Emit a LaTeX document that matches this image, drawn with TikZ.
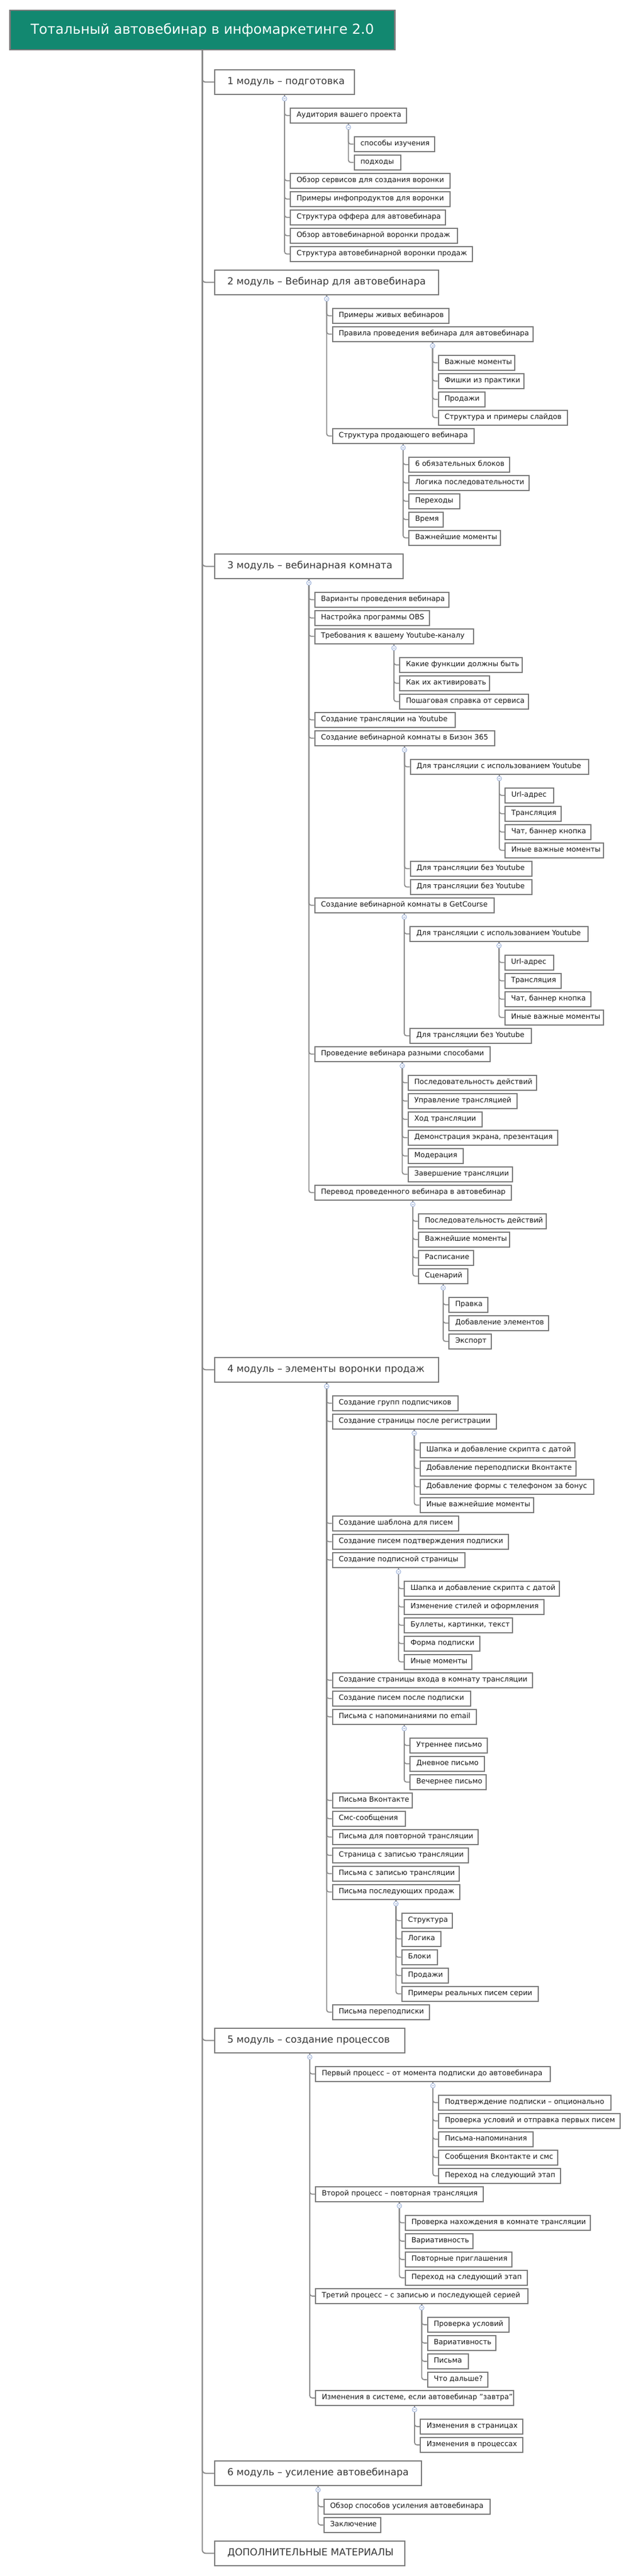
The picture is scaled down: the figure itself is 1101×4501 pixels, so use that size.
\documentclass[tikz,border=0pt]{standalone}
\usepackage{fontspec}
\setmainfont{DejaVu Sans}
\definecolor{teal0}{RGB}{18,136,112}
\definecolor{bord}{RGB}{122,122,122}
\definecolor{lnk}{RGB}{138,138,138}
\definecolor{btnc}{RGB}{150,172,214}
\tikzset{
 box/.style={draw=bord, line width=2pt, fill=white, inner xsep=11pt, inner ysep=0pt, minimum height=26pt, font=\fontsize{12.6}{15}\selectfont, text=black!90},
 modbox/.style={draw=bord, line width=2pt, fill=white, inner xsep=22pt, inner ysep=0pt, minimum height=43pt, font=\fontsize{17}{21}\selectfont, text=black!78},
 rootbox/.style={draw=bord, line width=2.5pt, fill=teal0, minimum width=672pt, minimum height=69pt, inner sep=0pt, font=\fontsize{24}{29}\selectfont, text=white},
 conn/.style={draw=lnk, line width=1.8pt, rounded corners=4pt},
 trunk/.style={draw=lnk, line width=2pt, rounded corners=6pt},
 cbtn/.style={circle, draw=btnc, fill=white, line width=0.9pt, inner sep=0pt, minimum size=8pt},
}
\newcommand\kid[5]{%
  \path ([xshift=9pt]#2.center) coordinate (tmpx);
  \coordinate (tmpy) at (0,#3);
  \node[box, anchor=west] (#1) at (tmpx |- tmpy) {\makebox[\dimexpr#4pt-24pt\relax][l]{\strut #5}};
  \draw[conn] (#2.south) |- (#1.west);
}
\newcommand\mdl[4]{%
  \coordinate (tmpy) at (374,#2);
  \node[modbox, anchor=west] (#1) at (tmpy) {\makebox[\dimexpr#3pt-46pt\relax][l]{\strut #4}};
  \draw[trunk] (root.south) |- (#1.west);
}
\newcommand\btn[1]{%
  \node[cbtn] (#1-btn) at ([yshift=-6.5pt]#1.south) {};
  \draw[btnc, line width=0.8pt] ([xshift=-2pt]#1-btn.center) -- ([xshift=2pt]#1-btn.center);
}
\begin{document}
\begin{tikzpicture}[x=1pt,y=-1pt]
\useasboundingbox (0,0) rectangle (1101,4501);
\node[rootbox, anchor=north west] (root) at (16,17) {Тотальный автовебинар в инфомаркетинге 2.0};

% modules
\mdl{m1}{143.5}{246}{1 модуль – подготовка}
\mdl{m2}{493.3}{393}{2 модуль – Вебинар для автовебинара}
\mdl{m3}{989.5}{331}{3 модуль – вебинарная комната}
\mdl{m4}{2393.3}{393}{4 модуль – элементы воронки продаж}
\mdl{m5}{3565.3}{334}{5 модуль – создание процессов}
\mdl{m6}{4321.5}{363}{6 модуль – усиление автовебинара}
\mdl{m7}{4461.3}{334}{ДОПОЛНИТЕЛЬНЫЕ МАТЕРИАЛЫ}

% module 1
\kid{a1}{m1}{201.8}{205}{Аудитория вашего проекта}
\kid{a1a}{a1}{251.8}{142}{способы изучения}
\kid{a1b}{a1}{283.8}{83}{подходы}
\kid{a2}{m1}{315.8}{281}{Обзор сервисов для создания воронки}
\kid{a3}{m1}{347.8}{281}{Примеры инфопродуктов для воронки}
\kid{a4}{m1}{379.8}{273}{Структура оффера для автовебинара}
\kid{a5}{m1}{411.8}{294}{Обзор автовебинарной воронки продаж}
\kid{a6}{m1}{443.8}{320}{Структура автовебинарной воронки продаж}

% module 2
\kid{b1}{m2}{551.8}{205}{Примеры живых вебинаров}
\kid{b2}{m2}{583.8}{352}{Правила проведения вебинара для автовебинара}
\kid{b2a}{b2}{633.8}{135}{Важные моменты}
\kid{b2b}{b2}{665.8}{151}{Фишки из практики}
\kid{b2c}{b2}{697.8}{83}{Продажи}
\kid{b2d}{b2}{729.8}{227}{Структура и примеры слайдов}
\kid{b3}{m2}{761.8}{249}{Структура продающего вебинара}
\kid{b3a}{b3}{811.8}{178}{6 обязательных блоков}
\kid{b3b}{b3}{843.8}{212}{Логика последовательности}
\kid{b3c}{b3}{875.8}{91}{Переходы}
\kid{b3d}{b3}{907.8}{62}{Время}
\kid{b3e}{b3}{939.8}{162}{Важнейшие моменты}

% module 3
\kid{c1}{m3}{1047.8}{236}{Варианты проведения вебинара}
\kid{c2}{m3}{1079.8}{202}{Настройка программы OBS}
\kid{c3}{m3}{1111.8}{279}{Требования к вашему Youtube-каналу}
\kid{c3a}{c3}{1161.8}{216}{Какие функции должны быть}
\kid{c3b}{c3}{1193.8}{159}{Как их активировать}
\kid{c3c}{c3}{1225.8}{227}{Пошаговая справка от сервиса}
\kid{c4}{m3}{1257.8}{247}{Создание трансляции на Youtube}
\kid{c5}{m3}{1289.8}{316}{Создание вебинарной комнаты в Бизон 365}
\kid{c5a}{c5}{1339.8}{313}{Для трансляции с использованием Youtube}
\kid{c5a1}{c5a}{1389.8}{87}{Url-адрес}
\kid{c5a2}{c5a}{1421.8}{100}{Трансляция}
\kid{c5a3}{c5a}{1453.8}{152}{Чат, баннер кнопка}
\kid{c5a4}{c5a}{1485.8}{174}{Иные важные моменты}
\kid{c5b}{c5}{1517.8}{214}{Для трансляции без Youtube}
\kid{c5c}{c5}{1549.8}{214}{Для трансляции без Youtube}
\kid{c6}{m3}{1581.8}{315}{Создание вебинарной комнаты в GetCourse}
\kid{c6a}{c6}{1631.8}{313}{Для трансляции с использованием Youtube}
\kid{c6a1}{c6a}{1681.8}{87}{Url-адрес}
\kid{c6a2}{c6a}{1713.8}{100}{Трансляция}
\kid{c6a3}{c6a}{1745.8}{152}{Чат, баннер кнопка}
\kid{c6a4}{c6a}{1777.8}{174}{Иные важные моменты}
\kid{c6b}{c6}{1809.8}{214}{Для трансляции без Youtube}
\kid{c7}{m3}{1841.8}{308}{Проведение вебинара разными способами}
\kid{c7a}{c7}{1891.8}{226}{Последовательность действий}
\kid{c7b}{c7}{1923.8}{192}{Управление трансляцией}
\kid{c7c}{c7}{1955.8}{131}{Ход трансляции}
\kid{c7d}{c7}{1987.8}{263}{Демонстрация экрана, презентация}
\kid{c7e}{c7}{2019.8}{98}{Модерация}
\kid{c7f}{c7}{2051.8}{184}{Завершение трансляции}
\kid{c8}{m3}{2083.8}{345}{Перевод проведенного вебинара в автовебинар}
\kid{c8a}{c8}{2133.8}{225}{Последовательность действий}
\kid{c8b}{c8}{2165.8}{161}{Важнейшие моменты}
\kid{c8c}{c8}{2197.8}{98}{Расписание}
\kid{c8d}{c8}{2229.8}{88}{Сценарий}
\kid{c8d1}{c8d}{2279.8}{70}{Правка}
\kid{c8d2}{c8d}{2311.8}{176}{Добавление элементов}
\kid{c8d3}{c8d}{2343.8}{76}{Экспорт}

% module 4
\kid{d1}{m4}{2451.8}{221}{Создание групп подписчиков}
\kid{d2}{m4}{2483.8}{288}{Создание страницы после регистрации}
\kid{d2a}{d2}{2533.8}{272}{Шапка и добавление скрипта с датой}
\kid{d2b}{d2}{2565.8}{274}{Добавление переподписки Вконтакте}
\kid{d2c}{d2}{2597.8}{305}{Добавление формы с телефоном за бонус}
\kid{d2d}{d2}{2629.8}{200}{Иные важнейшие моменты}
\kid{d3}{m4}{2661.8}{222}{Создание шаблона для писем}
\kid{d4}{m4}{2693.8}{309}{Создание писем подтверждения подписки}
\kid{d5}{m4}{2725.8}{233}{Создание подписной страницы}
\kid{d5a}{d5}{2775.8}{273}{Шапка и добавление скрипта с датой}
\kid{d5b}{d5}{2807.8}{246}{Изменение стилей и оформления}
\kid{d5c}{d5}{2839.8}{191}{Буллеты, картинки, текст}
\kid{d5d}{d5}{2871.8}{134}{Форма подписки}
\kid{d5e}{d5}{2903.8}{120}{Иные моменты}
\kid{d6}{m4}{2935.8}{351}{Создание страницы входа в комнату трансляции}
\kid{d7}{m4}{2967.8}{243}{Создание писем после подписки}
\kid{d8}{m4}{2999.8}{253}{Письма с напоминаниями по email}
\kid{d8a}{d8}{3049.8}{137}{Утреннее письмо}
\kid{d8b}{d8}{3081.8}{132}{Дневное письмо}
\kid{d8c}{d8}{3113.8}{135}{Вечернее письмо}
\kid{d9}{m4}{3145.8}{141}{Письма Вконтакте}
\kid{d10}{m4}{3177.8}{129}{Смс-сообщения}
\kid{d11}{m4}{3209.8}{256}{Письма для повторной трансляции}
\kid{d12}{m4}{3241.8}{239}{Страница с записью трансляции}
\kid{d13}{m4}{3273.8}{223}{Письма с записью трансляции}
\kid{d14}{m4}{3305.8}{224}{Письма последующих продаж}
\kid{d14a}{d14}{3355.8}{90}{Структура}
\kid{d14b}{d14}{3387.8}{70}{Логика}
\kid{d14c}{d14}{3419.8}{64}{Блоки}
\kid{d14d}{d14}{3451.8}{83}{Продажи}
\kid{d14e}{d14}{3483.8}{240}{Примеры реальных писем серии}
\kid{d15}{m4}{3515.8}{171}{Письма переподписки}

% module 5
\kid{e1}{m5}{3623.8}{412}{Первый процесс – от момента подписки до автовебинара}
\kid{e1a}{e1}{3673.8}{303}{Подтверждение подписки – опционально}
\kid{e1b}{e1}{3705.8}{319}{Проверка условий и отправка первых писем}
\kid{e1c}{e1}{3737.8}{167}{Письма-напоминания}
\kid{e1d}{e1}{3769.8}{210}{Сообщения Вконтакте и смс}
\kid{e1e}{e1}{3801.8}{215}{Переход на следующий этап}
\kid{e2}{m5}{3833.8}{295}{Второй процесс – повторная трансляция}
\kid{e2a}{e2}{3883.8}{325}{Проверка нахождения в комнате трансляции}
\kid{e2b}{e2}{3915.8}{120}{Вариативность}
\kid{e2c}{e2}{3947.8}{188}{Повторные приглашения}
\kid{e2d}{e2}{3979.8}{215}{Переход на следующий этап}
\kid{e3}{m5}{4011.8}{373}{Третий процесс – с записью и последующей серией}
\kid{e3a}{e3}{4061.8}{144}{Проверка условий}
\kid{e3b}{e3}{4093.8}{121}{Вариативность}
\kid{e3c}{e3}{4125.8}{73}{Письма}
\kid{e3d}{e3}{4157.8}{107}{Что дальше?}
\kid{e4}{m5}{4189.8}{348}{Изменения в системе, если автовебинар "завтра"}
\kid{e4a}{e4}{4239.8}{181}{Изменения в страницах}
\kid{e4b}{e4}{4271.8}{181}{Изменения в процессах}

% module 6
\kid{f1}{m6}{4379.8}{292}{Обзор способов усиления автовебинара}
\kid{f2}{m6}{4411.8}{101}{Заключение}

% collapse buttons
\btn{m1}\btn{a1}\btn{m2}\btn{b2}\btn{b3}\btn{m3}\btn{c3}\btn{c5}\btn{c5a}
\btn{c6}\btn{c6a}\btn{c7}\btn{c8}\btn{c8d}\btn{m4}\btn{d2}\btn{d5}\btn{d8}
\btn{d14}\btn{m5}\btn{e1}\btn{e2}\btn{e3}\btn{e4}\btn{m6}
\end{tikzpicture}
\end{document}
